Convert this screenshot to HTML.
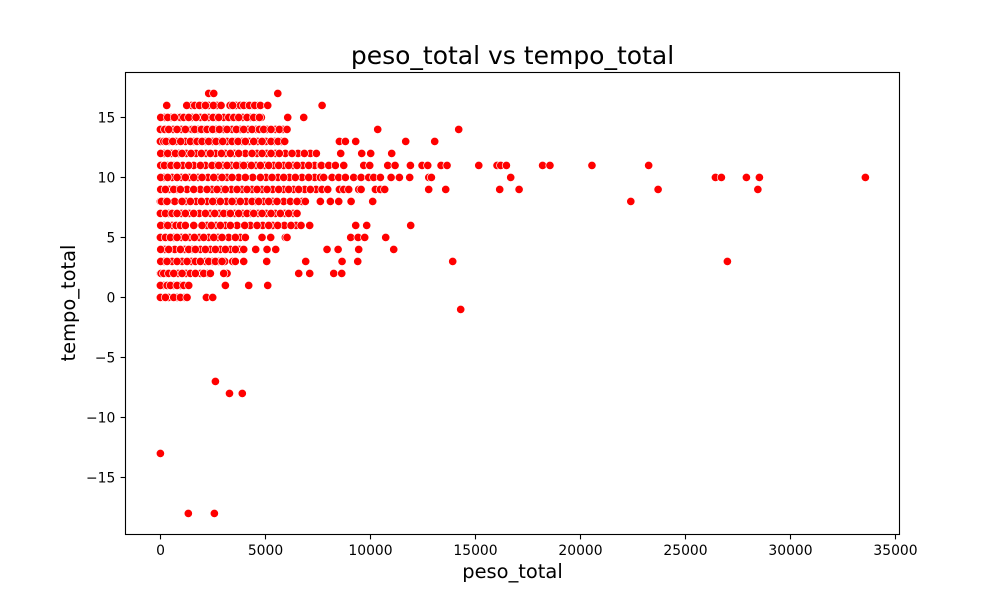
<!DOCTYPE html>
<html>
<head>
<meta charset="utf-8">
<title>peso_total vs tempo_total</title>
<style>
html,body{margin:0;padding:0;background:#fff;width:1000px;height:600px;overflow:hidden}
svg{display:block}
text{font-family:"DejaVu Sans",sans-serif;fill:#000}
</style>
</head>
<body>
<svg id="chart" xmlns="http://www.w3.org/2000/svg" width="1000" height="600" viewBox="0 0 1000 600">
  <rect x="0" y="0" width="1000" height="600" fill="#fff"/>
  <rect x="125" y="72" width="775" height="462" fill="#fff"/>
  <g id="points"></g>
  <rect x="125.5" y="72.5" width="774" height="462" fill="none" stroke="#000" stroke-width="1.11"/>
  <g id="xticks"></g>
  <g id="yticks"></g>
  <text x="512.5" y="64" text-anchor="middle" font-size="25px">peso_total vs tempo_total</text>
  <text x="512.5" y="578" text-anchor="middle" font-size="19.44px">peso_total</text>
  <text transform="translate(75,303) rotate(-90)" text-anchor="middle" font-size="19.44px">tempo_total</text>
</svg>
<script>
const xTickValues = [0, 5000, 10000, 15000, 20000, 25000, 30000, 35000];
const yTickValues = [-15, -10, -5, 0, 5, 10, 15];

const peso17 = [2300, 2540, 5590];
const peso16 = [1476, 1984, 2300, 2698, 3317, 3600, 3810, 4127, 4364, 4650, 301, 1254, 1635, 1857, 2143, 2524, 2889, 3444, 3968, 4238, 4492, 4762, 5111, 7700];
const peso15 = [206, 507, 872, 952, 1507, 1904, 2301, 2650, 3015, 3380, 3618, 3920, 4285, 4602, 4808, 15, 349, 666, 1111, 1349, 1698, 2111, 2508, 2778, 3254, 3492, 3730, 4127, 4444, 4714, 6063, 6825];
const peso14 = [0, 79, 317, 603, 1000, 1428, 1507, 1793, 2110, 2380, 2650, 3015, 3411, 3808, 4173, 4554, 4840, 5078, 5475, 5840, 0, 206, 396, 793, 1190, 1634, 1951, 2221, 2491, 2808, 3173, 3618, 3967, 4364, 4713, 4919, 5268, 5665, 6030, 10348, 14205];
const peso13 = [47, 238, 396, 745, 1190, 1587, 1856, 2142, 2491, 2824, 3173, 3570, 3888, 4237, 4634, 5030, 5443, 5760, 0, 158, 269, 587, 968, 1428, 1745, 1983, 2300, 2650, 2967, 3411, 3697, 4046, 4443, 4840, 5268, 5601, 5919, 8524, 8810, 9300, 11681, 13062];
const peso12 = [174, 523, 872, 1237, 1698, 2174, 2618, 3094, 3522, 4046, 4602, 5062, 5475, 5951, 6554, 7141, 15, 349, 714, 1031, 1460, 1951, 2380, 2904, 3332, 3729, 4363, 4840, 5268, 5665, 6268, 6855, 7427, 8586, 9586, 10014, 11014];
const peso11 = [0, 111, 317, 634, 1063, 1587, 2142, 2618, 2967, 3380, 3808, 4157, 4554, 4967, 5395, 5872, 6316, 6776, 7347, 15, 190, 507, 793, 1348, 1904, 2459, 2776, 3173, 3618, 3967, 4332, 4761, 5157, 5633, 6109, 6506, 7062, 7617, 7667, 8016, 8333, 8730, 9683, 9968, 10825, 11175, 11905, 12460, 12730, 13365, 13650, 15160, 16030, 16205, 16476, 18200, 18550, 20550, 23250];
const peso10 = [0, 158, 555, 1000, 1380, 1793, 2269, 2745, 3173, 3729, 4396, 5030, 5602, 6141, 6744, 7347, 15, 349, 793, 1190, 1586, 1983, 2539, 2935, 3411, 4046, 4761, 5316, 5871, 6427, 7062, 7617, 7776, 8176, 8492, 8810, 9205, 9557, 9919, 10158, 10476, 10986, 11381, 11871, 12780, 12905, 16681, 26430, 26714, 27905, 28524, 33571];
const peso9 = [0, 111, 428, 793, 1269, 1904, 2459, 2904, 3380, 3888, 4364, 4840, 5348, 5872, 6348, 6871, 7411, 15, 238, 634, 952, 1586, 2221, 2697, 3094, 3650, 4125, 4602, 5078, 5633, 6109, 6585, 7141, 7696, 7968, 8524, 8730, 8967, 9443, 9557, 10238, 10476, 10681, 12776, 13586, 16157, 17081, 23700, 28450];
const peso8 = [0, 174, 682, 1222, 1698, 2221, 2666, 3142, 3602, 4078, 4523, 4919, 5348, 5872, 6744, 47, 317, 1031, 1428, 1951, 2491, 2856, 3411, 3808, 4364, 4681, 5157, 5554, 6188, 6506, 6903, 7617, 8095, 8492, 9081, 10109, 22400];
const peso7 = [79, 396, 682, 1000, 1380, 1856, 2380, 2809, 3173, 3539, 3919, 4285, 4650, 5046, 5475, 5919, 6316, 0, 238, 555, 793, 1190, 1587, 2142, 2586, 3015, 3332, 3729, 4126, 4443, 4840, 5268, 5713, 6109, 6506];
const peso6 = [0, 174, 555, 745, 1063, 1587, 2221, 2650, 3094, 3650, 4285, 4872, 5348, 5904, 6459, 15, 349, 952, 1190, 1983, 2427, 2856, 3332, 4015, 4602, 5157, 5586, 6220, 6697, 7109, 9300, 9824, 11919];
const peso5 = [0, 111, 365, 634, 1000, 1396, 1856, 2300, 2745, 3253, 3808, 5951, 0, 238, 476, 793, 1190, 1618, 2063, 2539, 2935, 3570, 4046, 4840, 5252, 6030, 9062, 9414, 9729, 10729];
const peso4 = [206, 682, 1158, 1507, 1904, 2380, 2856, 3332, 3761, 15, 396, 952, 1348, 1666, 2142, 2618, 3094, 3570, 3967, 4538, 5078, 5491, 7935, 8462, 9443, 11110];
const peso3 = [0, 174, 555, 1031, 1476, 2142, 2491, 2777, 3063, 3444, 15, 317, 793, 1269, 1666, 1904, 2300, 2618, 2935, 3570, 3967, 5062, 6919, 8651, 9397, 13919, 27000];
const peso2 = [269, 841, 1222, 1904, 2269, 3174, 0, 31, 158, 396, 634, 1031, 1428, 1666, 2063, 2380, 3015, 6586, 7110, 8254, 8635];
const peso1 = [0, 158, 634, 952, 0, 317, 476, 793, 1111, 1349, 3094, 4205, 5110];
const peso0 = [0, 111, 396, 793, 1158, 0, 238, 634, 952, 1269, 2190, 2491];
const pesoMinus1 = [14300];
const pesoMinus7 = [2620];
const pesoMinus8 = [3290, 3900];
const pesoMinus13 = [0];
const pesoMinus18 = [1330, 2570];

const tempoLevels = [17, 16, 15, 14, 13, 12, 11, 10, 9, 8, 7, 6, 5, 4, 3, 2, 1, 0, -1, -7, -8, -13, -18];
const pesoByLevel = [peso17, peso16, peso15, peso14, peso13, peso12, peso11, peso10, peso9, peso8, peso7, peso6, peso5, peso4, peso3, peso2, peso1, peso0, pesoMinus1, pesoMinus7, pesoMinus8, pesoMinus13, pesoMinus18];

const NS = 'http://www.w3.org/2000/svg';
function xScale(v) { return 160.4 + v * 0.021; }
function yScale(v) { return 297.4 - v * 12; }

const pointsGroup = document.getElementById('points');
tempoLevels.forEach(function (tempo, i) {
  pesoByLevel[i].forEach(function (peso) {
    const c = document.createElementNS(NS, 'circle');
    
    
    c.setAttribute('cx', xScale(peso));
    c.setAttribute('cy', yScale(tempo));
    c.setAttribute('r', 4.17);
    c.setAttribute('fill', '#ff0000');
    c.setAttribute('stroke', '#ffffff');
    c.setAttribute('stroke-width', 0.67);
    pointsGroup.appendChild(c);
  });
});

const xTicksGroup = document.getElementById('xticks');
xTickValues.forEach(function (v) {
  const x = xScale(v) + 0.1;
  const line = document.createElementNS(NS, 'line');
  
  
  line.setAttribute('x1', x);
  line.setAttribute('x2', x);
  line.setAttribute('y1', 534.5);
  line.setAttribute('y2', 539.4);
  line.setAttribute('stroke', '#000');
  line.setAttribute('stroke-width', 1.11);
  xTicksGroup.appendChild(line);
  const label = document.createElementNS(NS, 'text');
  
  
  label.setAttribute('x', x);
  label.setAttribute('y', 555);
  label.setAttribute('text-anchor', 'middle');
  label.setAttribute('font-size', '13.89px');
  label.textContent = String(v);
  xTicksGroup.appendChild(label);
});

const yTicksGroup = document.getElementById('yticks');
yTickValues.forEach(function (v) {
  const y = yScale(v) + 0.1;
  const line = document.createElementNS(NS, 'line');
  
  
  line.setAttribute('x1', 120.6);
  line.setAttribute('x2', 125.5);
  line.setAttribute('y1', y);
  line.setAttribute('y2', y);
  line.setAttribute('stroke', '#000');
  line.setAttribute('stroke-width', 1.11);
  yTicksGroup.appendChild(line);
  const label = document.createElementNS(NS, 'text');
  
  
  label.setAttribute('x', 115.3);
  label.setAttribute('y', y + 5);
  label.setAttribute('text-anchor', 'end');
  label.setAttribute('font-size', '13.89px');
  label.textContent = v < 0 ? '\u2212' + Math.abs(v) : String(v);
  yTicksGroup.appendChild(label);
});
</script>
</body>
</html>
